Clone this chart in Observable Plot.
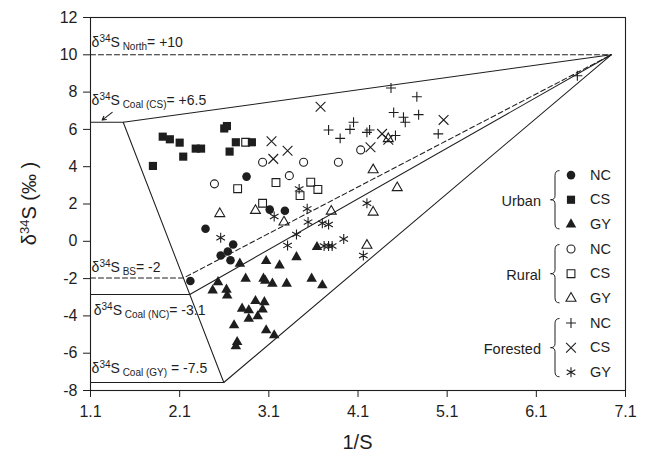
<!DOCTYPE html>
<html>
<head>
<meta charset="utf-8">
<script src="https://cdn.jsdelivr.net/npm/d3@7"></script>
<script src="https://cdn.jsdelivr.net/npm/@observablehq/plot@0.6"></script>
<style>
  html, body { margin: 0; padding: 0; background: #fff; }
  #chart svg { display: block; }
</style>
</head>
<body>
<div id="chart"></div>
<script>
// ---------- tick values ----------
const xTicks = [1.1, 2.1, 3.1, 4.1, 5.1, 6.1, 7.1];
const yTicks = [-8, -6, -4, -2, 0, 2, 4, 6, 8, 10, 12];

// ---------- samples: [1/S, δ34S] ----------
const urbanNC = [[2.85,3.47],[3.11,1.70],[3.28,1.64],[2.39,0.67],[2.22,-2.13],[2.70,-0.17],[2.56,-0.76],[2.64,-0.55],[2.67,-1.02]];
const urbanCS = [[1.80,4.04],[1.91,5.61],[1.99,5.47],[2.10,5.29],[2.14,4.54],[2.28,4.97],[2.34,4.97],[2.60,6.05],[2.63,6.18],[2.66,4.81],[2.73,5.31],[2.91,5.31]];
const urbanGY = [[2.775,-1.2],[2.53,-2.19],[2.47,-2.63],[2.625,-2.59],[2.633,-2.9],[2.84,-2.0],[3.04,-2.0],[3.06,-2.12],[3.07,-1.06],[3.22,-1.29],[3.41,-0.85],[3.14,-2.27],[3.30,-2.27],[3.58,-2.0],[3.70,-2.36],[3.64,-0.31],[2.80,-3.61],[2.875,-3.70],[2.95,-3.2],[3.05,-3.26],[3.03,-3.66],[2.875,-4.15],[2.975,-4.02],[2.71,-4.5],[3.07,-4.77],[3.16,-5.04],[2.745,-5.4],[2.73,-5.63]];
const ruralNC = [[2.49,3.08],[3.03,4.24],[3.33,3.52],[3.49,4.24],[3.88,4.24],[4.13,4.90]];
const ruralCS = [[2.84,5.31],[2.75,2.82],[3.03,2.04],[3.18,3.15],[3.45,2.45],[3.57,3.17],[3.65,2.78]];
const ruralGY = [[2.55,1.48],[2.95,1.65],[3.27,1.03],[3.80,1.61],[4.27,3.83],[4.54,2.87],[4.27,1.56],[4.20,-0.22],[4.44,5.50]];
const forestNC = [[3.77,5.97],[3.90,5.52],[4.01,6.0],[4.05,6.38],[4.20,5.84],[4.23,5.97],[4.47,8.22],[4.50,6.91],[4.52,5.67],[4.61,6.65],[4.63,6.38],[4.76,7.75],[4.78,6.79],[5.00,5.76],[6.56,8.88]];
const forestCS = [[3.13,5.36],[3.15,4.42],[3.31,4.86],[3.68,7.22],[4.24,5.04],[4.37,5.76],[4.44,5.45],[5.06,6.51]];
const forestGY = [[2.56,0.19],[3.16,1.33],[3.31,-0.22],[3.41,0.37],[3.44,2.81],[3.53,1.74],[3.54,1.03],[3.70,0.97],[3.77,0.90],[3.72,-0.25],[3.77,-0.25],[3.81,-0.25],[3.94,0.12],[4.16,-0.76],[4.20,2.04]];

// ---------- mixing lines ----------
const northLine  = [[1.1,10],[6.94,10]];
const coalCSLine = [[1.1,6.38],[1.467,6.38],[6.94,10]];
const leftEdge   = [[1.467,6.38],[2.595,-7.57]];
const coalGYLine = [[1.1,-7.57],[2.595,-7.57],[6.94,10]];
const coalNCLine = [[1.1,-2.85],[2.213,-2.85],[6.94,10]];
const bsLine     = [[1.1,-1.97],[2.142,-1.97],[6.94,10]];

// ---------- legend ----------
const legendGroups = ["Urban", "Rural", "Forested"];
const legendCodes = ["NC", "CS", "GY"];

// ---------- layout ----------
const W = 649, H = 452;
const mL = 90, mR = 24, mT = 17, mB = 62;
const X0 = 1.1, X1 = 7.1, Y0 = -8, Y1 = 12;
const pxToX = px => X0 + (px - mL) * (X1 - X0) / (W - mL - mR);
const pxToY = py => Y1 - (py - mT) * (Y1 - Y0) / (H - mT - mB);
const INK = "#1e1e1e";
const FONT = "'Liberation Sans', Arial, Helvetica, sans-serif";

const series = [
  {data: urbanNC,  symbol: "circle",   r: 4.3, fill: INK,    stroke: "none"},
  {data: urbanCS,  symbol: "square",   r: 4.6, fill: INK,    stroke: "none"},
  {data: urbanGY,  symbol: "triangle", r: 3.9, fill: INK,    stroke: "none"},
  {data: ruralNC,  symbol: "circle",   r: 4.0, fill: "none", stroke: INK},
  {data: ruralCS,  symbol: "square",   r: 4.4, fill: "none", stroke: INK},
  {data: ruralGY,  symbol: "triangle", r: 3.7, fill: "none", stroke: INK},
  {data: forestNC, symbol: "plus",     r: 3.3, fill: "none", stroke: INK},
  {data: forestCS, symbol: "times",    r: 4.5, fill: "none", stroke: INK},
  {data: forestGY, symbol: "asterisk", r: 4.7, fill: "none", stroke: INK}
];

const lineMark = (d, dashed) => Plot.line(d, {x: p => p[0], y: p => p[1], stroke: INK, strokeWidth: 1.05, strokeDasharray: dashed ? "5,3" : null});

const marks = [
  Plot.frame({stroke: INK, strokeWidth: 1.1}),
  lineMark(northLine, true),
  lineMark(bsLine, true),
  lineMark(coalCSLine, false),
  lineMark(leftEdge, false),
  lineMark(coalGYLine, false),
  lineMark(coalNCLine, false),
  Plot.arrow([{x1: 1.343, y1: 6.91, x2: 1.231, y2: 6.50}], {x1: "x1", y1: "y1", x2: "x2", y2: "y2", stroke: INK, strokeWidth: 1.1, headLength: 6})
];

series.forEach(s => {
  marks.push(Plot.dot(s.data, {x: p => p[0], y: p => p[1], symbol: s.symbol, r: s.r, fill: s.fill, stroke: s.stroke, strokeWidth: 1.1}));
});

// legend (rows in pixel layout converted to data units)
const rowPx = i => 174.6 + i * 24.65;
const legSymX = pxToX(570.5), legTextX = pxToX(589.5), legGroupX = pxToX(540.5);
series.forEach((s, i) => {
  marks.push(Plot.dot([0], {x: () => legSymX, y: () => pxToY(rowPx(i)), symbol: s.symbol, r: s.r, fill: s.fill, stroke: s.stroke, strokeWidth: 1.1}));
  marks.push(Plot.text([legendCodes[i % 3]], {x: () => legTextX, y: () => pxToY(rowPx(i)), text: d => d, textAnchor: "start", fontSize: 14.5, fill: INK}));
});
legendGroups.forEach((g, gi) => {
  marks.push(Plot.text([g], {x: () => legGroupX, y: () => pxToY(rowPx(gi * 3 + 1) + 2), text: d => d, textAnchor: "end", fontSize: 14.5, fill: INK}));
});

const plot = Plot.plot({
  width: W, height: H,
  marginLeft: mL, marginRight: mR, marginTop: mT, marginBottom: mB,
  style: {fontFamily: FONT, fontSize: "16px", color: INK, background: "#fff", overflow: "visible"},
  x: {domain: [X0, X1], ticks: xTicks, tickFormat: d => d.toFixed(1), tickSize: 7, tickPadding: 8, label: null},
  y: {domain: [Y0, Y1], ticks: yTicks, tickFormat: d => String(d), tickSize: 7, tickPadding: 6, label: null},
  marks
});
document.getElementById("chart").appendChild(plot);

// ---------- rich-text annotations placed through the plot scales ----------
const xsc = plot.scale("x"), ysc = plot.scale("y");
const sx = xsc.apply ? v => xsc.apply(v) : d3.scaleLinear(xsc.domain, xsc.range);
const sy = ysc.apply ? v => ysc.apply(v) : d3.scaleLinear(ysc.domain, ysc.range);
const svg = d3.select(plot);

function rich(x, y, parts, opts = {}) {
  const t = svg.append("text")
    .attr("x", x).attr("y", y)
    .attr("font-family", FONT)
    .attr("fill", INK)
    .attr("font-size", opts.size || 14)
    .attr("text-anchor", opts.anchor || "start");
  if (opts.transform) t.attr("transform", opts.transform);
  let shift = 0;
  parts.forEach(p => {
    const target = p.shift || 0;
    t.append("tspan").attr("dy", target - shift).attr("font-size", p.size).text(p.t);
    shift = target;
  });
  return t;
}

const delta = (sub, tail, big = 14, small = 10) => [
  {t: "δ", size: big},
  {t: "34", size: small, shift: -5},
  {t: "S", size: big},
  {t: " " + sub, size: small, shift: 3},
  {t: tail, size: big}
];

rich(sx(1.118), sy(10.41), delta("North", "= +10"));
rich(sx(1.118), sy(7.28), delta("Coal (CS)", "= +6.5"));
rich(sx(1.118), sy(-1.66), delta("BS", "= -2"));
rich(sx(1.142), sy(-3.98), delta("Coal (NC)", "= -3.1"));
rich(sx(1.118), sy(-7.10), delta("Coal (GY)", " = -7.5"));

// axis titles
svg.append("text")
  .attr("x", (sx(X0) + sx(X1)) / 2).attr("y", H - 3)
  .attr("text-anchor", "middle").attr("font-family", FONT).attr("font-size", 20).attr("fill", INK)
  .text("1/S");

const yMid = (sy(Y0) + sy(Y1)) / 2;
rich(0, 0, [
  {t: "δ", size: 20},
  {t: "34", size: 13, shift: -7},
  {t: "S (‰ )", size: 20}
], {anchor: "middle", transform: `translate(36,${yMid}) rotate(-90)`});

// curly braces for legend groups
legendGroups.forEach((g, gi) => {
  const top = rowPx(gi * 3) - 4, bot = rowPx(gi * 3 + 2) + 5, mid = (top + bot) / 2;
  const sp = 555, tip = 550.5, end = 559.5;
  const path = `M${end},${top} Q${sp},${top} ${sp},${top + 5} L${sp},${mid - 4} Q${sp},${mid} ${tip},${mid} Q${sp},${mid} ${sp},${mid + 4} L${sp},${bot - 5} Q${sp},${bot} ${end},${bot}`;
  svg.append("path").attr("d", path).attr("fill", "none").attr("stroke", INK).attr("stroke-width", 1);
});
</script>
</body>
</html>
